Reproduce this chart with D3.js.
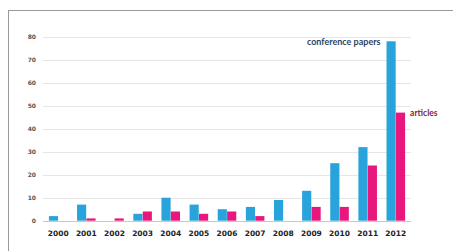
<!DOCTYPE html>
<html>
<head>
<meta charset="utf-8">
<script src="https://cdn.jsdelivr.net/npm/d3@7"></script>
<style>
  html, body { margin: 0; padding: 0; background: #fff; }
  #chart { width: 453px; height: 251px; }
</style>
</head>
<body>
<div id="chart"></div>
<script>
// data
const years = ["2000", "2001", "2002", "2003", "2004", "2005", "2006",
  "2007", "2008", "2009", "2010", "2011", "2012"];
const conferencePapers = [2, 7, 0, 3, 10, 7, 5, 6, 9, 13, 25, 32, 78];
const articles = [0, 1, 1, 4, 4, 3, 4, 2, 0, 6, 6, 24, 47];
const yTicks = [0, 10, 20, 30, 40, 50, 60, 70, 80];

const blue = "#29a3dc";
const pink = "#e8177e";

const svg = d3.select("#chart").append("svg")
  .attr("width", 453)
  .attr("height", 251);

// outer frame (runs past the right and bottom edges)
svg.append("rect")
  .attr("x", 8.5).attr("y", 10.5)
  .attr("width", 460).attr("height", 260)
  .attr("fill", "none")
  .attr("stroke", "#9a9a9a")
  .attr("stroke-width", 1);

const x0 = d3.scaleBand()
  .domain(years)
  .range([43, 411])
  .paddingInner(0.32)
  .paddingOuter(0.2);

const x1 = d3.scaleBand()
  .domain(["conf", "art"])
  .range([0, x0.bandwidth()])
  .padding(0.03);

const y = d3.scaleLinear()
  .domain([0, 80])
  .range([220.7, 36.7]);

// grid lines
svg.append("g")
  .selectAll("line")
  .data(yTicks)
  .enter().append("line")
  .attr("x1", 43).attr("x2", 411)
  .attr("y1", d => Math.round(y(d)) + 0.5)
  .attr("y2", d => Math.round(y(d)) + 0.5)
  .attr("stroke", d => d === 0 ? "#c8c8c8" : "#e6e6e6")
  .attr("stroke-width", 1);

// y tick labels
svg.append("g")
  .selectAll("text")
  .data(yTicks)
  .enter().append("text")
  .attr("x", 36)
  .attr("y", d => y(d) + 2)
  .attr("text-anchor", "end")
  .attr("font-family", "DejaVu Sans")
  .attr("font-size", 6)
  .attr("font-weight", "bold")
  .attr("fill", "#555")
  .text(d => d);

// bars
const groups = svg.append("g")
  .selectAll("g")
  .data(years)
  .enter().append("g")
  .attr("transform", d => "translate(" + x0(d) + ",0)");

groups.append("rect")
  .attr("x", x1("conf"))
  .attr("width", x1.bandwidth())
  .attr("y", (d, i) => y(conferencePapers[i]))
  .attr("height", (d, i) => y(0) - y(conferencePapers[i]))
  .attr("fill", blue);

groups.append("rect")
  .attr("x", x1("art"))
  .attr("width", x1.bandwidth())
  .attr("y", (d, i) => y(articles[i]))
  .attr("height", (d, i) => y(0) - y(articles[i]))
  .attr("fill", pink);

// x labels
svg.append("g")
  .selectAll("text")
  .data(years)
  .enter().append("text")
  .attr("x", d => x0(d) + x0.bandwidth() / 2)
  .attr("y", 236)
  .attr("text-anchor", "middle")
  .attr("font-family", "DejaVu Sans")
  .attr("font-size", 7.5)
  .attr("font-weight", "bold")
  .attr("fill", "#222")
  .text(d => d);

// series labels
const last = years.length - 1;
svg.append("text")
  .attr("x", x0(years[last]) + x1("conf") - 6)
  .attr("y", y(conferencePapers[last]) + 4)
  .attr("text-anchor", "end")
  .attr("font-family", "Lato")
  .attr("font-size", 9)
  .attr("font-weight", "bold")
  .attr("fill", "#2b4560")
  .text("conference papers");

svg.append("text")
  .attr("x", x0(years[last]) + x1("art") + x1.bandwidth() + 5)
  .attr("y", y(articles[last]) + 3)
  .attr("font-family", "Lato")
  .attr("font-size", 8.5)
  .attr("font-weight", "bold")
  .attr("fill", "#7d1d47")
  .text("articles");
</script>
</body>
</html>
